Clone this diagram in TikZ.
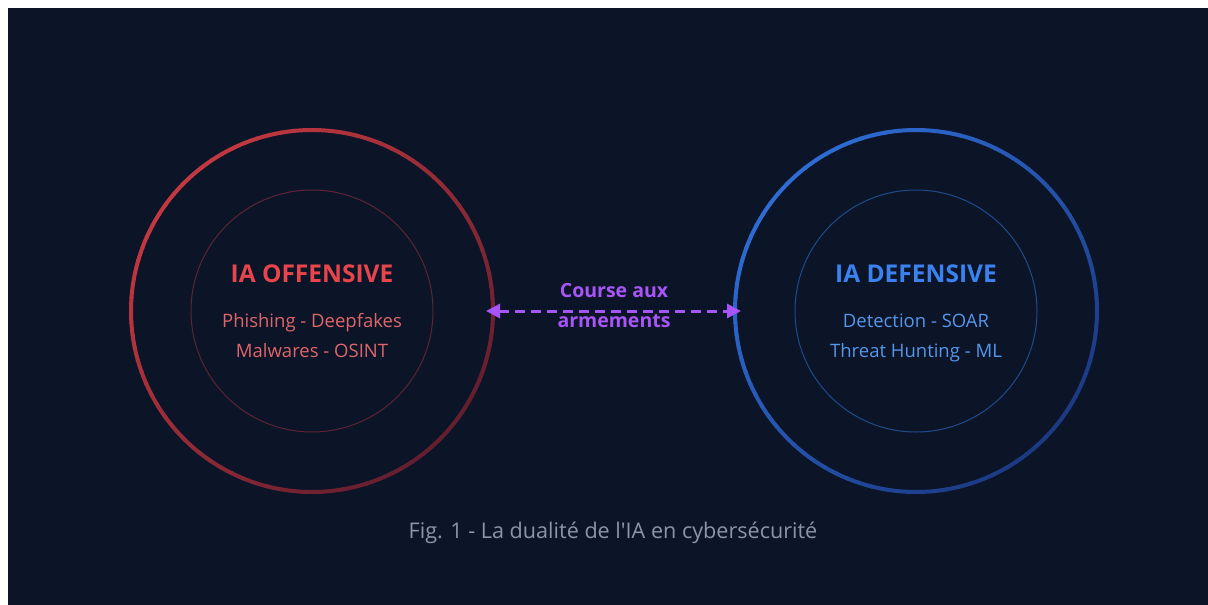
\documentclass[tikz,border=0pt]{standalone}
\usepackage{fontspec}
\setmainfont{Open Sans}[Ligatures=TeXOff]
\usetikzlibrary{arrows.meta}

\definecolor{bg}{HTML}{0B1527}
\definecolor{redhi}{HTML}{C43840}
\definecolor{redlo}{HTML}{641E2E}
\definecolor{redin}{HTML}{5C2434}
\definecolor{redtitle}{HTML}{E8444B}
\definecolor{redtext}{HTML}{E0656A}
\definecolor{bluehi}{HTML}{2E6CD4}
\definecolor{bluelo}{HTML}{1C3A84}
\definecolor{bluein}{HTML}{1F4A8C}
\definecolor{bluetitle}{HTML}{3B82F0}
\definecolor{bluetext}{HTML}{5596EA}
\definecolor{arms}{HTML}{A855F7}
\definecolor{captiongrey}{HTML}{8A96A8}

\tikzset{
  innerring/.style={circle, minimum size=242pt, inner sep=0pt, line width=1pt},
  outerring/.style={circle, minimum size=362pt, inner sep=0pt},
  title/.style={anchor=base, font=\bfseries\fontsize{24.5}{28}\selectfont},
  item/.style={anchor=base, font=\fontsize{18.5}{22}\selectfont},
  armslabel/.style={anchor=base, font=\bfseries\fontsize{19.5}{22}\selectfont, text=arms},
  race/.style={draw=arms, line width=3pt, dash pattern=on 10pt off 6pt,
    {Triangle[length=14pt,width=14pt]}-{Triangle[length=14pt,width=14pt]}},
}

% ring stroked in short arcs whose colour runs from top-left to bottom-right
\newcommand{\shadedring}[5]{%
  \foreach \a in {0,4,...,356}{%
    \pgfmathtruncatemacro\p{max(0,min(100,50-50*(cos(\a+2)+sin(\a+2))/sqrt(2)))}%
    \draw[line width=4pt, draw=#4!\p!#5]
      ([shift={(\a:#3)}]#1,#2) arc[start angle=\a, end angle=\a+4.5, radius=#3];
  }%
}

\begin{document}
\begin{tikzpicture}[x=1pt,y=-1pt]
\useasboundingbox (0,0) rectangle (1208,605);
\fill[white] (0,0) rectangle (1208,605);
\fill[bg] (8,8) rectangle (1208,605);

% offensive side
\node[outerring] (offOuter) at (312,311) {};
\shadedring{312}{311}{181}{redhi}{redlo}
\node[innerring, draw=redin] (offInner) at (312,311) {};
\node[title, text=redtitle] (offTitle) at (312,282) {IA OFFENSIVE};
\node[item, text=redtext] (offItems1) at (312,327) {Phishing - Deepfakes};
\node[item, text=redtext] (offItems2) at (312,357) {Malwares - OSINT};

% defensive side
\node[outerring] (defOuter) at (916,311) {};
\shadedring{916}{311}{181}{bluehi}{bluelo}
\node[innerring, draw=bluein] (defInner) at (916,311) {};
\node[title, text=bluetitle] (defTitle) at (916,282) {IA DEFENSIVE};
\node[item, text=bluetext] (defItems1) at (916,327) {Detection - SOAR};
\node[item, text=bluetext] (defItems2) at (916,357) {Threat Hunting - ML};

% arms race connector
\coordinate (raceL) at (486,311);
\coordinate (raceR) at (741,311);
\draw[race] (raceL) -- (raceR);
\node[armslabel] (raceTop) at (614,297) {Course aux};
\node[armslabel] (raceBottom) at (614,327) {armements};

% caption
\node[anchor=base, font=\fontsize{21.6}{25}\selectfont, text=captiongrey] (caption)
  at (613,538) {Fig. 1 - La dualité de l'IA en cybersécurité};
\end{tikzpicture}
\end{document}
